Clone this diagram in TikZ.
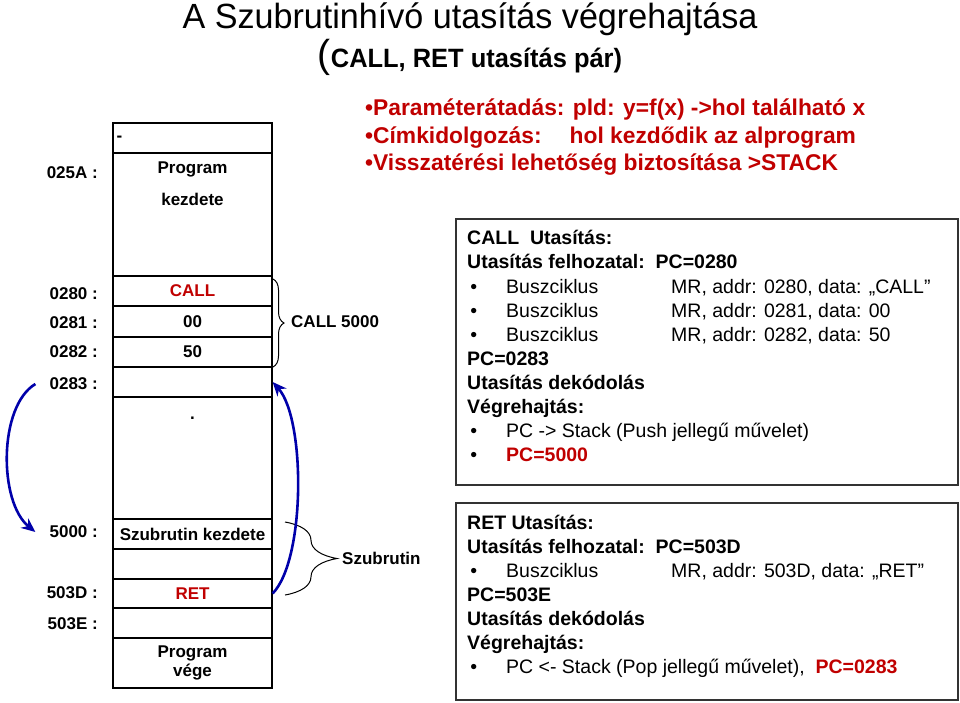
\documentclass[tikz,border=0pt]{standalone}
\usepackage{fontspec}
\setmainfont{Liberation Sans}
\usetikzlibrary{arrows.meta,decorations.pathreplacing}
\definecolor{R}{RGB}{192,0,0}
\definecolor{B}{RGB}{0,0,170}
\newcommand{\drawframe}{\draw[line width=1.8pt,black!80]}
\newcommand{\memcell}[4]{\node[cell,minimum height=#3pt] (#1) at (192.5,#2) {#4};}
\newcommand{\addr}[3]{\node[addr] (#1) at (98,#2) {#3};}
\newcommand{\txt}[3]{\node[txt] (#1) at (467,#2) {#3};}
\newcommand{\bul}[3]{\node[txt] (#1) at (467,#2) {\makebox[39pt][l]{\,•}#3};}
\newcommand{\bus}[3]{\bul{#1}{#2}{\makebox[165pt][l]{Buszciklus}#3}}
\tikzset{
  cell/.style={draw,line width=1.3pt,minimum width=159pt,inner sep=0pt,align=center,
    font=\bfseries\fontsize{17}{19}\selectfont},
  addr/.style={anchor=east,inner sep=0pt,font=\bfseries\fontsize{17}{20}\selectfont},
  txt/.style={anchor=base west,inner sep=0pt,font=\fontsize{19.5}{23}\selectfont},
  redline/.style={anchor=west,inner sep=0pt,text=R,font=\bfseries\fontsize{22.8}{27}\selectfont},
  flow/.style={B,line width=2.6pt,-{Stealth[length=14pt,width=12pt]}},
  brace/.style={decorate,line width=1pt}
}
\begin{document}
\begin{tikzpicture}[x=1pt,y=-1pt]
\useasboundingbox (0,0) rectangle (960,702);
\node[anchor=base,inner sep=0pt] (title) at (470,28) {\fontsize{35}{40}\selectfont\scalebox{.975}[1]{A Szubrutinhívó utasítás végrehajtása}};
\node[anchor=base,inner sep=0pt] (subtitle) at (470,67) {\fontsize{39}{44}\selectfont(\scalebox{.96}[1]{\bfseries\fontsize{26.5}{30}\selectfont CALL, RET utasítás pár)}};
\node[redline] (p1) at (365,110) {•Paraméterátadás: pld: y=f(x) ->hol található x};
\node[redline] (p2) at (365,138) {•Címkidolgozás:\hspace{28pt}hol kezdődik az alprogram};
\node[redline] (p3) at (365,165) {•Visszatérési lehetőség biztosítása >STACK};
\memcell{c0}{138}{30}{}\memcell{c025A}{214.5}{123}{}\memcell{c0280}{291}{30}{\textcolor{R}{CALL}}\memcell{c0281}{321.5}{31}{00}\memcell{c0282}{352}{30}{50}\memcell{c0283}{382}{30}{}\memcell{cgap}{458}{122}{}
\memcell{c5000}{534}{30}{Szubrutin kezdete}\memcell{c5001}{564}{30}{}\memcell{c503D}{593.5}{29}{\textcolor{R}{RET}}\memcell{c503E}{623}{30}{}\memcell{cend}{663}{50}{Program\\vége}
\node[cell,draw=none,anchor=west,minimum width=0pt] (dash) at (116,139) {-};
\node[cell,draw=none,minimum width=0pt] (prog) at (192.5,169) {Program};
\node[cell,draw=none,minimum width=0pt] (kezd) at (192.5,199) {kezdete};
\node[cell,draw=none,minimum width=0pt,anchor=base] (dot) at (192.5,419) {.};
\addr{a025A}{173}{025A :}\addr{a0280}{294}{0280 :}\addr{a0281}{323}{0281 :}\addr{a0282}{352}{0282 :}\addr{a0283}{384}{0283 :}
\addr{a5000}{532}{5000 :}\addr{a503D}{593}{503D :}\addr{a503E}{624}{503E :}
\draw[brace,decoration={brace,amplitude=11pt}] (273,279) -- (273,367);
\node[addr,anchor=west] (call) at (291,322) {CALL 5000};
\draw[brace,decoration={brace,amplitude=52pt}] (285,522) -- (285,595);
\node[addr,anchor=west] (szub) at (342,558) {Szubrutin};
\draw[flow] ([xshift=-14pt]a0283.west) .. controls +(-37,22) and +(-37,-30) .. ([xshift=-14pt]a5000.west);
\draw[flow] (c503D.east) .. controls +(33,-34) and +(33,37) .. (c0283.east);
\drawframe (456,219) rectangle (958,485);
\drawframe (456,503) rectangle (958,700);
\txt{u1}{244}{\bfseries CALL\ \ Utasítás:}
\txt{u2}{268}{\bfseries Utasítás felhozatal:\ \ PC=0280}
\bus{u3}{293}{MR, addr: 0280, data: „CALL”}
\bus{u4}{317}{MR, addr: 0281, data: 00}
\bus{u5}{341}{MR, addr: 0282, data: 50}
\txt{u6}{365}{\bfseries PC=0283}
\txt{u7}{389}{\bfseries Utasítás dekódolás}
\txt{u8}{413}{\bfseries Végrehajtás:}
\bul{u9}{437}{PC -> Stack (Push jellegű művelet)}
\bul{u10}{461}{\color{R}\bfseries PC=5000}
\txt{l1}{529}{\bfseries RET Utasítás:}
\txt{l2}{553}{\bfseries Utasítás felhozatal:\ \ PC=503D}
\bus{l3}{577}{MR, addr: 503D, data: „RET”}
\txt{l4}{601}{\bfseries PC=503E}
\txt{l5}{625}{\bfseries Utasítás dekódolás}
\txt{l6}{649}{\bfseries Végrehajtás:}
\bul{l7}{673}{PC <- Stack (Pop jellegű művelet),\ \ {\color{R}\bfseries PC=0283}}
\end{tikzpicture}
\end{document}
